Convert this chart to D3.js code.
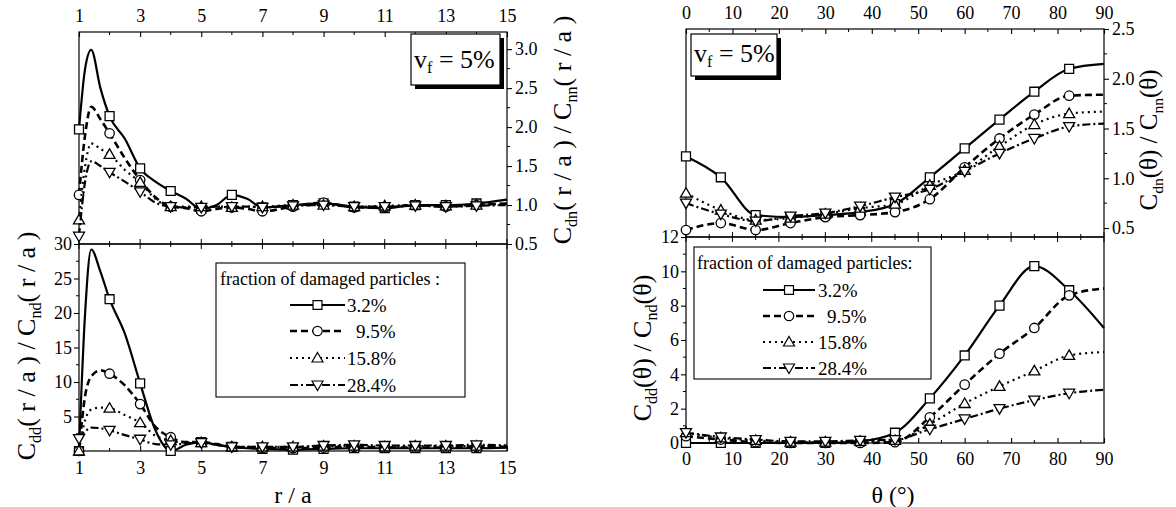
<!DOCTYPE html>
<html>
<head>
<meta charset="utf-8">
<script src="https://cdn.jsdelivr.net/npm/d3@7"></script>
<style>
  body { margin: 0; background: #fff; }
  svg, svg text { font-family: "Liberation Serif", "DejaVu Serif", "Noto Serif", Tinos, FreeSerif, "Times New Roman", Times, serif; }
</style>
</head>
<body>
<div class="canvas"></div>
<script>
// ---- data ----
const rVals = [1, 1.2, 1.4, 1.7, 2, 2.5, 3, 3.5, 4, 4.5, 5, 5.5, 6, 6.5, 7, 8, 9, 10, 11, 12, 13, 14, 15]
const thetaVals = [0, 7.5, 15, 22.5, 30, 37.5, 45, 52.5, 60, 67.5, 75, 82.5, 90]

const seriesNames = ['3.2%', '9.5%', '15.8%', '28.4%']

// C_dn(r/a) / C_nn(r/a)
const dnR_32 = [1.97, 2.75, 2.99, 2.5, 2.14, 1.85, 1.47, 1.3, 1.18, 1.08, 0.95, 1.0, 1.13, 1.08, 0.97, 1.0, 1.02, 0.98, 0.96, 1.0, 1.0, 1.02, 1.07]
const dnR_95 = [1.13, 1.9, 2.26, 2.1, 1.92, 1.6, 1.32, 1.1, 0.98, 0.96, 0.92, 0.95, 0.97, 0.95, 0.92, 0.98, 1.03, 0.97, 0.97, 1.0, 0.98, 1.0, 1.02]
const dnR_158 = [0.81, 1.5, 1.79, 1.72, 1.65, 1.45, 1.29, 1.08, 0.98, 0.98, 0.98, 0.98, 0.97, 0.98, 0.98, 1.0, 1.0, 0.98, 0.99, 1.0, 0.99, 1.0, 1.02]
const dnR_284 = [0.6, 1.3, 1.56, 1.5, 1.42, 1.3, 1.17, 1.03, 0.98, 0.97, 0.97, 0.98, 0.98, 0.98, 0.97, 0.99, 1.0, 0.98, 0.98, 0.99, 0.98, 0.99, 1.0]

// C_dd(r/a) / C_nd(r/a)
const ddR_32 = [0, 20, 29.2, 26, 22, 17, 9.8, 3, 0, 0.9, 1.3, 0.9, 0.6, 0.4, 0.3, 0.2, 0.3, 0.4, 0.4, 0.4, 0.4, 0.4, 0.5]
const ddR_95 = [0, 8, 10.8, 11.7, 11.2, 9.5, 6.8, 3.5, 2.0, 1.3, 1.3, 1.0, 0.6, 0.5, 0.4, 0.4, 0.5, 0.6, 0.5, 0.5, 0.5, 0.6, 0.6]
const ddR_158 = [0, 4.5, 6, 6.3, 6.2, 5.2, 4.1, 2.2, 1.5, 1.2, 1.2, 0.9, 0.6, 0.6, 0.6, 0.6, 0.7, 0.7, 0.6, 0.7, 0.7, 0.7, 0.7]
const ddR_284 = [1.8, 2.8, 3.4, 3.3, 3.0, 2.3, 1.7, 1.0, 0.9, 1.1, 1.2, 0.9, 0.6, 0.6, 0.6, 0.6, 0.8, 0.9, 0.8, 0.8, 0.8, 0.9, 0.8]

// C_dn(theta) / C_nn(theta)
const dnT_32 = [1.22, 1.01, 0.63, 0.61, 0.63, 0.66, 0.74, 1.01, 1.30, 1.59, 1.87, 2.10, 2.15]
const dnT_95 = [0.48, 0.55, 0.48, 0.55, 0.61, 0.63, 0.66, 0.79, 1.11, 1.40, 1.64, 1.83, 1.84]
const dnT_158 = [0.85, 0.68, 0.58, 0.60, 0.64, 0.70, 0.74, 0.93, 1.08, 1.32, 1.54, 1.65, 1.67]
const dnT_284 = [0.75, 0.64, 0.57, 0.62, 0.65, 0.72, 0.81, 0.89, 1.07, 1.25, 1.40, 1.52, 1.55]

// C_dd(theta) / C_nd(theta)
const ddT_32 = [0, 0, 0, 0, 0, 0.1, 0.6, 2.6, 5.1, 8.0, 10.3, 8.9, 6.7]
const ddT_95 = [0.4, 0.2, 0.05, 0, 0, 0, 0.05, 1.5, 3.4, 5.2, 6.7, 8.6, 9.0]
const ddT_158 = [0.6, 0.3, 0.15, 0.05, 0.05, 0.1, 0.15, 1.1, 2.3, 3.3, 4.2, 5.1, 5.3]
const ddT_284 = [0.6, 0.35, 0.2, 0.1, 0.1, 0.15, 0.2, 0.8, 1.4, 2.0, 2.5, 2.9, 3.1]

// tick labels
const rTicks = [1, 3, 5, 7, 9, 11, 13, 15]
const rMinor = [2, 4, 6, 8, 10, 12, 14]
const thetaTicks = [0, 10, 20, 30, 40, 50, 60, 70, 80, 90]
const thetaMinor = [5, 15, 25, 35, 45, 55, 65, 75, 85]
const dnRTicks = [0.5, 1.0, 1.5, 2.0, 2.5, 3.0]
const ddRTicks = [5, 10, 15, 20, 25, 30]
const dnTTicks = [0.5, 1.0, 1.5, 2.0, 2.5]
const ddTTicks = [0, 2, 4, 6, 8, 10, 12]

// ---- styles ----
const FONT = '"Liberation Serif", "DejaVu Serif", "Noto Serif", Tinos, FreeSerif, "Times New Roman", Times, serif'
const dashes = ['none', '7,4', '2,4', '8,3,2,3']
const shapes = ['square', 'circle', 'triangle', 'triangleDown']
const lineWidths = [2.2, 2.6, 2.2, 2.2]

const svg = d3.select('.canvas')
    .append('svg')
    .attr('width', 1176)
    .attr('height', 507)
    .attr('font-family', FONT)

const fmt1 = d3.format('.1f')

function markerPath(shape){
    if(shape === 'square') return d3.symbol(d3.symbolSquare, 80)()
    if(shape === 'circle') return d3.symbol(d3.symbolCircle, 70)()
    if(shape === 'triangle') return 'M0,-5.5L5.5,4L-5.5,4Z'
    return 'M0,5.5L5.5,-4L-5.5,-4Z'
}

// label with subscripts: parts = [[text, isSub], ...]
function richText(g, parts, size){
    const t = g.append('text')
        .attr('font-size', size)
        .attr('font-family', FONT)
        .attr('fill', '#000')
    parts.forEach((p, i) => {
        const prevSub = i > 0 && parts[i - 1][1]
        let dy = 0
        if(p[1] && !prevSub) dy = size * 0.22
        if(!p[1] && prevSub) dy = -size * 0.22
        t.append('tspan')
            .attr('font-size', p[1] ? size * 0.62 : size)
            .attr('dy', dy)
            .text(p[0])
    })
    return t
}

function drawSeries(g, x, y, xs, ys, i, markerTest){
    const pts = xs.map((v, k) => [v, ys[k]])
    const line = d3.line()
        .x(d => x(d[0]))
        .y(d => y(d[1]))
        .curve(d3.curveMonotoneX)

    g.append('path')
        .attr('d', line(pts))
        .attr('fill', 'none')
        .attr('stroke', '#000')
        .attr('stroke-width', lineWidths[i])
        .attr('stroke-dasharray', dashes[i])

    g.selectAll(null)
        .data(pts.filter(markerTest))
        .enter()
        .append('path')
        .attr('d', markerPath(shapes[i]))
        .attr('transform', d => `translate(${x(d[0])}, ${y(d[1])})`)
        .attr('fill', '#fff')
        .attr('stroke', '#000')
        .attr('stroke-width', 1.3)
}

function minorTicks(g, scale, values, pos, len, vertical){
    g.selectAll(null)
        .data(values)
        .enter()
        .append('line')
        .attr('x1', d => vertical ? pos : scale(d))
        .attr('x2', d => vertical ? pos + len : scale(d))
        .attr('y1', d => vertical ? scale(d) : pos)
        .attr('y2', d => vertical ? scale(d) : pos + len)
        .attr('stroke', '#000')
        .attr('stroke-width', 1)
}

function styleAxis(g){
    g.attr('font-family', FONT)
    g.select('.domain').remove()
    g.selectAll('line').attr('stroke-width', 1.1)
    g.selectAll('text')
        .attr('font-size', 18)
        .attr('fill', '#000')
}

function frame(g, x0, y0, x1, y1){
    g.append('rect')
        .attr('x', x0).attr('y', y0)
        .attr('width', x1 - x0).attr('height', y1 - y0)
        .attr('fill', 'none')
        .attr('stroke', '#000')
        .attr('stroke-width', 1.2)
}

function vfBox(g, x, y, w, h, fs){
    g.append('rect')
        .attr('x', x + 4).attr('y', y + 4).attr('width', w).attr('height', h)
        .attr('fill', '#000')
    g.append('rect')
        .attr('x', x).attr('y', y).attr('width', w).attr('height', h)
        .attr('fill', '#fff').attr('stroke', '#000').attr('stroke-width', 1.2)
    richText(g, [['v', false], ['f', true], [' = 5%', false]], fs)
        .attr('x', x + 3).attr('y', y + h * 0.66)
}

function legend(g, x0, y0, w, h, title, titleX, titleY, rowYs, lineX0, lineX1, textX){
    g.append('rect')
        .attr('x', x0).attr('y', y0).attr('width', w).attr('height', h)
        .attr('fill', '#fff').attr('stroke', '#000').attr('stroke-width', 1.1)
    g.append('text')
        .attr('x', titleX).attr('y', titleY)
        .attr('dy', '0.35em')
        .attr('font-size', 18)
        .text(title)
    seriesNames.forEach((name, i) => {
        const yy = rowYs[i]
        g.append('line')
            .attr('x1', lineX0).attr('x2', lineX1)
            .attr('y1', yy).attr('y2', yy)
            .attr('stroke', '#000')
            .attr('stroke-width', lineWidths[i])
            .attr('stroke-dasharray', dashes[i])
        g.append('path')
            .attr('d', markerPath(shapes[i]))
            .attr('transform', `translate(${(lineX0 + lineX1) / 2}, ${yy})`)
            .attr('fill', '#fff').attr('stroke', '#000').attr('stroke-width', 1.2)
        g.append('text')
            .attr('x', textX + (name === '9.5%' ? 9 : 0))
            .attr('y', yy)
            .attr('dy', '0.35em')
            .attr('font-size', 19)
            .text(name)
    })
}

// ================= left figure (r / a) =================
const L = {x0: 79, x1: 507, top: 32, mid: 244, bot: 451}
const xR = d3.scaleLinear().domain([1, 15]).range([L.x0, L.x1])
const yDnR = d3.scaleLinear().domain([0.5, 3.22]).range([L.mid, L.top])
const yDdR = d3.scaleLinear().domain([0, 30]).range([L.bot, L.mid])

const left = svg.append('g')

// top axis
const lTop = left.append('g').attr('transform', `translate(0, ${L.top})`)
    .call(d3.axisTop(xR).tickValues(rTicks).tickFormat(d3.format('d')).tickSizeInner(-5).tickSizeOuter(0).tickPadding(10))
styleAxis(lTop)
minorTicks(left, xR, rMinor, L.top, 3, false)

// middle line ticks both sides
minorTicks(left, xR, rTicks, L.mid - 5, 10, false)
minorTicks(left, xR, rMinor, L.mid - 3, 6, false)

// bottom axis
const lBot = left.append('g').attr('transform', `translate(0, ${L.bot})`)
    .call(d3.axisBottom(xR).tickValues(rTicks).tickFormat(d3.format('d')).tickSizeInner(-5).tickSizeOuter(0).tickPadding(10))
styleAxis(lBot)
minorTicks(left, xR, rMinor, L.bot, -3, false)

// right axis (top panel)
const lRight = left.append('g').attr('transform', `translate(${L.x1}, 0)`)
    .call(d3.axisRight(yDnR).tickValues(dnRTicks).tickFormat(fmt1).tickSize(5).tickPadding(3))
styleAxis(lRight)
minorTicks(left, yDnR, [0.75, 1.25, 1.75, 2.25, 2.75], L.x1, 3, true)

// left axis (bottom panel)
const lLeft = left.append('g').attr('transform', `translate(${L.x0}, 0)`)
    .call(d3.axisLeft(yDdR).tickValues(ddRTicks).tickSize(5).tickPadding(2))
styleAxis(lLeft)
minorTicks(left, yDdR, [2.5, 7.5, 12.5, 17.5, 22.5, 27.5], L.x0, -3, true)

frame(left, L.x0, L.top, L.x1, L.mid)
frame(left, L.x0, L.mid, L.x1, L.bot)

const isInt = d => Number.isInteger(d[0]) && d[0] < 15
;[dnR_32, dnR_95, dnR_158, dnR_284].forEach((ys, i) => drawSeries(left, xR, yDnR, rVals, ys, i, isInt))
;[ddR_32, ddR_95, ddR_158, ddR_284].forEach((ys, i) => drawSeries(left, xR, yDdR, rVals, ys, i, isInt))

vfBox(left, 411, 34, 89, 51, 26)
legend(left, 216, 263, 249, 134, 'fraction of damaged particles :', 220, 279, [305, 331, 358, 385], 290, 345, 347)

// axis titles
left.append('text')
    .attr('x', 293).attr('y', 503)
    .attr('text-anchor', 'middle')
    .attr('font-size', 24)
    .text('r / a')

richText(left, [['C', false], ['dd', true], ['( r / a ) / C', false], ['nd', true], ['( r / a )', false]], 26)
    .attr('text-anchor', 'middle')
    .attr('transform', 'translate(35, 346) rotate(-90)')

richText(left, [['C', false], ['dn', true], ['( r / a ) / C', false], ['nn', true], ['( r / a )', false]], 26)
    .attr('text-anchor', 'middle')
    .attr('transform', 'translate(571, 130) rotate(-90)')

// ================= right figure (theta) =================
const R = {x0: 686, x1: 1104, top: 29, mid: 237, bot: 443}
const xT = d3.scaleLinear().domain([0, 90]).range([R.x0, R.x1])
const yDnT = d3.scaleLinear().domain([0.41, 2.5]).range([R.mid, R.top])
const yDdT = d3.scaleLinear().domain([0, 12]).range([R.bot, R.mid])

const right = svg.append('g')

const rTop = right.append('g').attr('transform', `translate(0, ${R.top})`)
    .call(d3.axisTop(xT).tickValues(thetaTicks).tickSizeInner(-5).tickSizeOuter(0).tickPadding(10))
styleAxis(rTop)
minorTicks(right, xT, thetaMinor, R.top, 3, false)

minorTicks(right, xT, thetaTicks, R.mid - 5, 10, false)
minorTicks(right, xT, thetaMinor, R.mid - 3, 6, false)

const rBot = right.append('g').attr('transform', `translate(0, ${R.bot})`)
    .call(d3.axisBottom(xT).tickValues(thetaTicks).tickSizeInner(-5).tickSizeOuter(0).tickPadding(9))
styleAxis(rBot)
minorTicks(right, xT, thetaMinor, R.bot, -3, false)

const rRight = right.append('g').attr('transform', `translate(${R.x1}, 0)`)
    .call(d3.axisRight(yDnT).tickValues(dnTTicks).tickFormat(fmt1).tickSize(5).tickPadding(3))
styleAxis(rRight)
minorTicks(right, yDnT, [0.75, 1.25, 1.75, 2.25], R.x1, 3, true)

const rLeft = right.append('g').attr('transform', `translate(${R.x0}, 0)`)
    .call(d3.axisLeft(yDdT).tickValues(ddTTicks).tickSize(5).tickPadding(2))
styleAxis(rLeft)
minorTicks(right, yDdT, [1, 3, 5, 7, 9, 11], R.x0, -3, true)

frame(right, R.x0, R.top, R.x1, R.mid)
frame(right, R.x0, R.mid, R.x1, R.bot)

const notEnd = d => d[0] < 90
;[dnT_32, dnT_95, dnT_158, dnT_284].forEach((ys, i) => drawSeries(right, xT, yDnT, thetaVals, ys, i, notEnd))
;[ddT_32, ddT_95, ddT_158, ddT_284].forEach((ys, i) => drawSeries(right, xT, yDdT, thetaVals, ys, i, notEnd))

vfBox(right, 691, 34, 86, 42, 26)
legend(right, 694, 247, 237, 132, 'fraction of damaged particles:', 697, 263, [290, 316, 342, 368], 763, 815, 818)

right.append('text')
    .attr('x', 893).attr('y', 503)
    .attr('text-anchor', 'middle')
    .attr('font-size', 24)
    .text('θ (°)')

richText(right, [['C', false], ['dd', true], ['(θ) / C', false], ['nd', true], ['(θ)', false]], 26)
    .attr('text-anchor', 'middle')
    .attr('transform', 'translate(651, 348) rotate(-90)')

richText(right, [['C', false], ['dn', true], ['(θ) / C', false], ['nn', true], ['(θ)', false]], 25)
    .attr('text-anchor', 'middle')
    .attr('transform', 'translate(1157, 140) rotate(-90)')
</script>
</body>
</html>
